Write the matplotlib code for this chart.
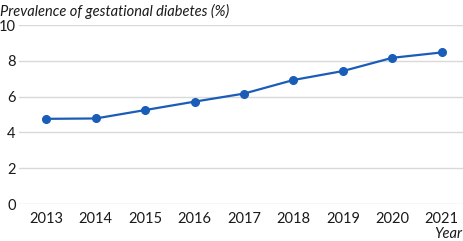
import matplotlib
matplotlib.use('Agg')
import matplotlib.pyplot as plt

# prevalence of gestational diabetes by year
years = [2013, 2014, 2015, 2016, 2017, 2018, 2019, 2020, 2021]
prevalence = [4.76, 4.78, 5.25, 5.72, 6.17, 6.93, 7.43, 8.17, 8.47]
y_ticks = [0, 2, 4, 6, 8, 10]

plt.rcParams['font.family'] = ['Lato', 'DejaVu Sans']

fig = plt.figure(figsize=(4.64, 2.41), dpi=100)
ax = fig.add_axes([0.041, 0.1535, 0.959, 0.7425])

ax.plot(years, prevalence, color='#1a5db8', lw=1.6, marker='o', ms=5.5,
        zorder=3, clip_on=False)

ax.set_xlim(2012.45, 2021.45)
ax.set_ylim(0, 10)
ax.set_yticks(y_ticks)
ax.set_xticks(years)
ax.yaxis.grid(True, color='#d9d9d9', lw=1)
ax.set_axisbelow(True)
for s in ax.spines.values():
    s.set_visible(False)
ax.tick_params(length=0, labelsize=10.5, colors='#1a1a1a')
ax.tick_params(axis='y', pad=2.5)
ax.tick_params(axis='x', pad=6)
for lbl in ax.get_yticklabels():
    lbl.set_horizontalalignment('right')

fig.text(0.0, 0.985, 'Prevalence of gestational diabetes (%)', style='italic',
         fontsize=10.5, va='top', ha='left', color='#1a1a1a')
fig.text(0.997, 0.0, 'Year', style='italic', fontsize=10.5,
         va='bottom', ha='right', color='#1a1a1a')

fig.savefig('out.png', dpi=100)
